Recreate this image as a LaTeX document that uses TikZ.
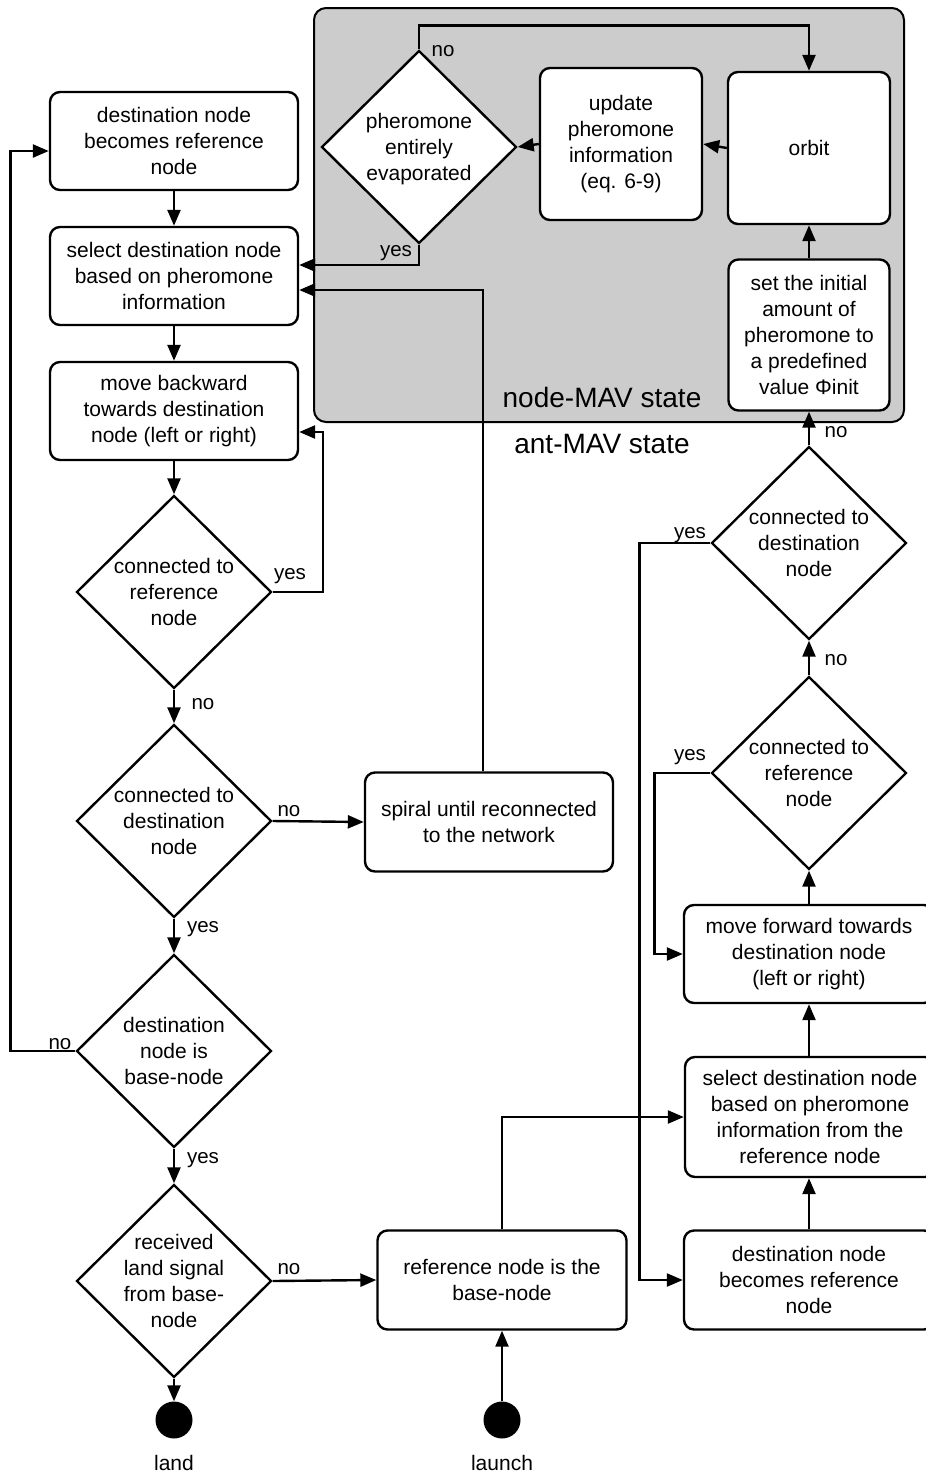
\documentclass[tikz,border=0pt]{standalone}
\usepackage{fontspec}
\setmainfont{Liberation Sans}
\usetikzlibrary{arrows.meta,shapes.geometric}
\definecolor{nodegray}{RGB}{203,204,203}
\begin{document}
\begin{tikzpicture}[x=1pt,y=-1pt,
  every node/.style={font=\fontsize{21}{26}\selectfont},
  box/.style={draw, line width=2.4pt, rounded corners=10pt, fill=white, align=center, inner sep=0pt},
  dia/.style={draw, diamond, line width=2.4pt, fill=white, minimum width=195pt, minimum height=193pt, inner sep=0pt},
  arr/.style={line width=2.4pt, -{Triangle[length=16pt,width=13pt]}},
  lbl/.style={inner sep=0pt, font=\fontsize{20.5}{24}\selectfont},
  dot/.style={circle, fill=black, minimum size=37pt, inner sep=0pt},
  big/.style={font=\fontsize{28}{32}\selectfont, inner sep=0pt},
]
\useasboundingbox (0,0) rectangle (926,1473);
\fill[white] (0,0) rectangle (926,1473);

% node-MAV region
\node[draw, line width=2pt, rounded corners=12pt, fill=nodegray, minimum width=590pt, minimum height=414pt, inner sep=0pt] (nmav) at (609,215) {};
\node[big] (nmavtxt) at (602,397) {node-MAV state};
\node[big] (antmav) at (602,444) {ant-MAV state};

\node[dia, label={[align=center, yshift=-2pt]center:{pheromone\\entirely\\evaporated}}] (d0) at (419,147) {};
\node[box, minimum width=162pt, minimum height=152pt] (upd) at (621,144) {update\\pheromone\\information\\(eq. 6-9)};
\node[box, minimum width=162pt, minimum height=152pt] (orbit) at (809,148) {orbit};
\node[box, minimum width=161pt, minimum height=151pt] (init) at (809,335) {set the initial\\amount of\\pheromone to\\a predefined\\value Φinit};

% left column
\node[box, minimum width=248pt, minimum height=98pt] (l1) at (174,141) {destination node\\becomes reference\\node};
\node[box, minimum width=248pt, minimum height=98pt] (l2) at (174,276) {select destination node\\based on pheromone\\information};
\node[box, minimum width=248pt, minimum height=98pt] (l3) at (174,411) {move backward\\towards destination\\node (left or right)};
\node[dia, label={[align=center]center:{connected to\\reference\\node}}] (d1) at (174,592) {};
\node[dia, label={[align=center]center:{connected to\\destination\\node}}] (d2) at (174,821) {};
\node[dia, label={[align=center]center:{destination\\node is\\base-node}}] (d3) at (174,1051) {};
\node[dia, label={[align=center]center:{received\\land signal\\from base-\\node}}] (d4) at (174,1281) {};
\node[dot] (land) at (174,1420) {};
\node (landtxt) at (174,1463) {land};

% middle
\node[box, minimum width=248pt, minimum height=99pt] (spiral) at (489,822) {spiral until reconnected\\to the network};
\node[box, minimum width=249pt, minimum height=99pt] (refb) at (502,1280) {reference node is the\\base-node};
\node[dot] (launch) at (502,1420) {};
\node (launchtxt) at (502,1463) {launch};

% right column
\node[box, minimum width=250pt, minimum height=99pt] (r1) at (809,1280) {destination node\\becomes reference\\node};
\node[box, minimum width=250pt, minimum height=120pt] (r2) at (810,1117) {select destination node\\based on pheromone\\information from the\\reference node};
\node[box, minimum width=250pt, minimum height=98pt] (r3) at (809,954) {move forward towards\\destination node\\(left or right)};
\node[dia, label={[align=center]center:{connected to\\reference\\node}}] (d5) at (809,773) {};
\node[dia, label={[align=center]center:{connected to\\destination\\node}}] (d6) at (809,543) {};

% connectors inside node-MAV
\draw[arr] (d0.north) -- ++(0,-24) -| (orbit.north);
\draw[arr] (orbit.west) -- (upd.east);
\draw[arr] (upd.west) -- (d0.east);
\draw[arr] (init.north) -- (orbit.south);
\draw[arr] (d0.south) |- ([yshift=11pt]l2.east);
\draw[arr] ([xshift=-6pt]spiral.north) |- ([yshift=-14pt]l2.east);

% left connectors
\draw[arr] (l1) -- (l2);
\draw[arr] (l2) -- (l3);
\draw[arr] (l3) -- (d1);
\draw[arr] (d1.east) -- ++(50,0) |- ([yshift=-21pt]l3.east);
\draw[arr] (d1) -- (d2);
\draw[arr] (d2.east) -- (spiral.west);
\draw[arr] (d2) -- (d3);
\draw[arr] (d3.west) -- ++(-65,0) |- ([yshift=-10pt]l1.west);
\draw[arr] (d3) -- (d4);
\draw[arr] (d4) -- (land);
\draw[arr] (d4.east) -- (refb.west);

% middle / right connectors
\draw[arr] (launch) -- (refb);
\draw[arr] (refb.north) |- (r2.west);
\draw[arr] (r1.north) -- (r2.south -| r1.north);
\draw[arr] (r2.north -| r3.south) -- (r3.south);
\draw[arr] (r3) -- (d5);
\draw[arr] (d5) -- (d6);
\draw[arr] (d6) -- (init);
\draw[arr] (d5.west) -- ++(-56,0) |- (r3.west);
\draw[arr] (d6.west) -- ++(-71,0) |- (r1.west);

% labels
\node[lbl] (lno0) at (443,51) {no};
\node[lbl] (lyes0) at (396,253) {yes};
\node[lbl] (lyes1) at (290,576) {yes};
\node[lbl] (lno1) at (203,704) {no};
\node[lbl] (lno2) at (289,811) {no};
\node[lbl] (lyes2) at (203,929) {yes};
\node[lbl] (lno3) at (60,1044) {no};
\node[lbl] (lyes3) at (203,1160) {yes};
\node[lbl] (lno4) at (289,1269) {no};
\node[lbl] (lno6) at (836,432) {no};
\node[lbl] (lyes6) at (690,535) {yes};
\node[lbl] (lno5) at (836,660) {no};
\node[lbl] (lyes5) at (690,757) {yes};
\end{tikzpicture}
\end{document}
